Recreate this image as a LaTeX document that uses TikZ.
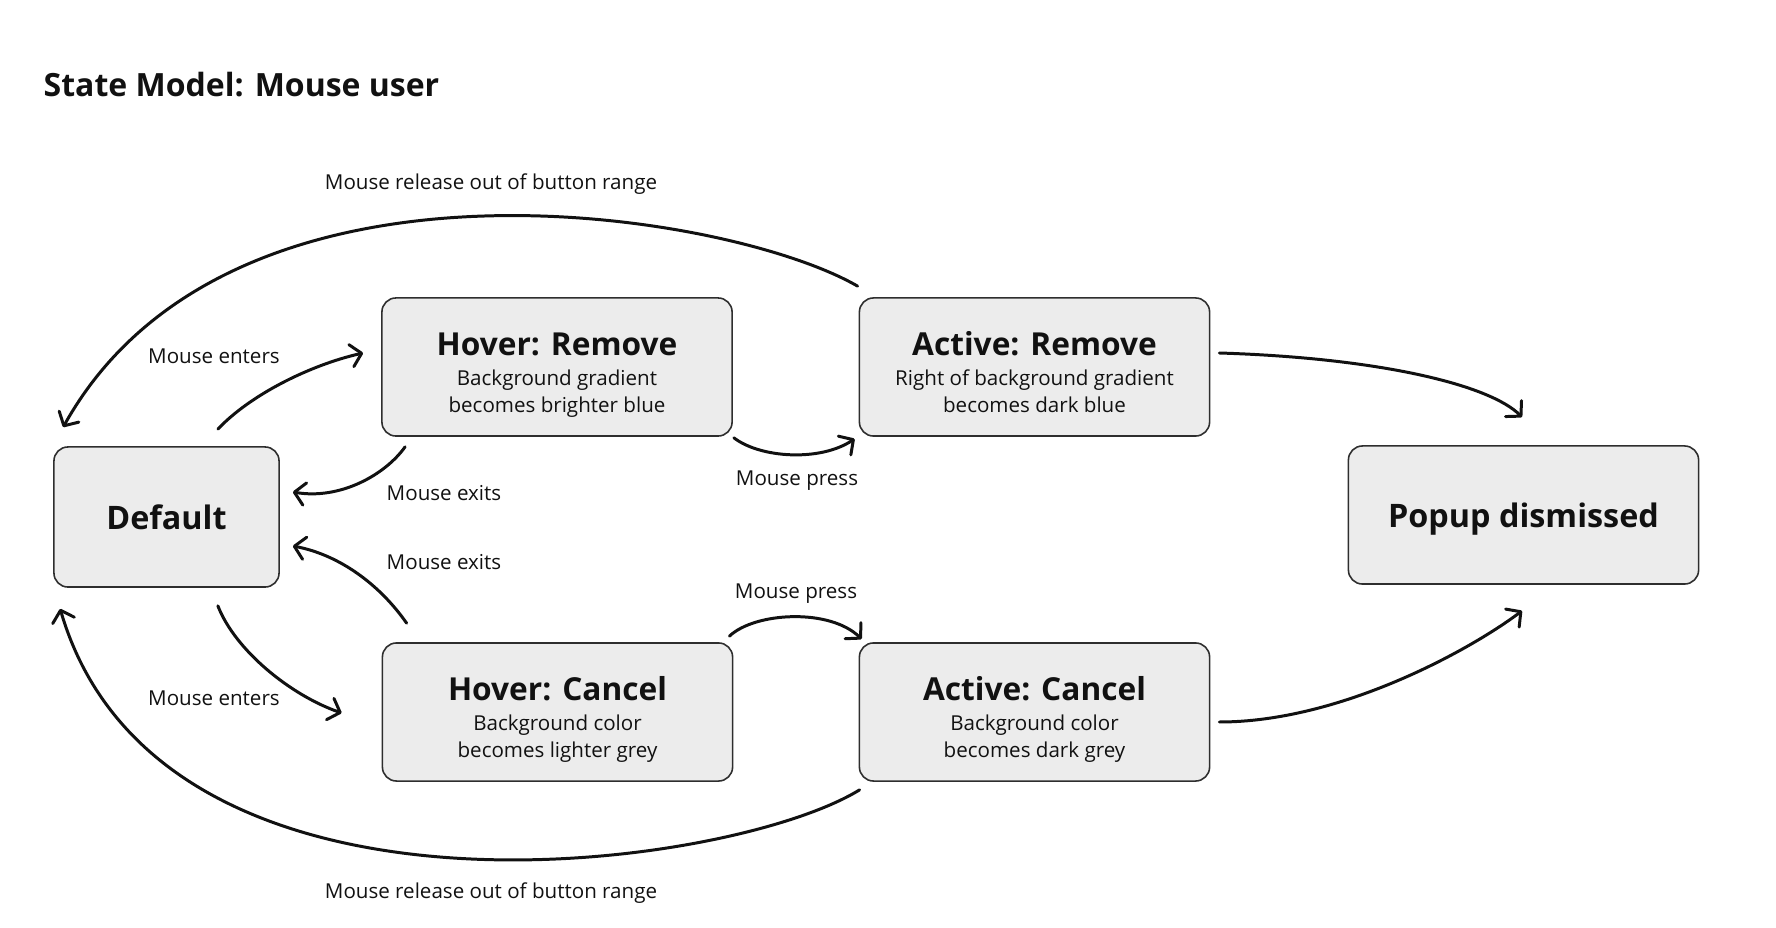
\documentclass[tikz,border=0pt]{standalone}
\usepackage{fontspec}
\setmainfont{Open Sans}
\usetikzlibrary{arrows.meta,calc}
\definecolor{boxfill}{HTML}{ECECEC}
\definecolor{boxline}{HTML}{2E2E2E}
\definecolor{ink}{HTML}{111111}
\newcommand{\titlefnt}{\fontsize{9.0}{9}\selectfont\bfseries}
\newcommand{\bigfnt}{\fontsize{9.2}{10}\selectfont\bfseries}
\newcommand{\subfnt}{\fontsize{5.85}{7.7}\selectfont}
\tikzset{
  statebox/.style={draw=boxline, fill=boxfill, line width=0.45pt, rounded corners=4pt,
    minimum width=3.5cm, minimum height=1.38cm, align=center, inner sep=0pt, text=ink, font=\subfnt},
  twoline/.style={statebox, text height=27.3pt, text depth=1.5pt},
  smallbox/.style={statebox, minimum width=2.25cm, minimum height=1.4cm},
  conn/.style={line width=0.85pt, ink, line cap=round,
    -{Straight Barb[length=3pt,width=6.4pt,round]}},
  lbl/.style={font=\subfnt, text=ink, inner sep=0pt}
}
\begin{document}
\begin{tikzpicture}[x=0.01cm,y=-0.01cm]
\useasboundingbox (0,0) rectangle (1776,928);
\node[anchor=base west, font=\fontsize{9.1}{11}\selectfont\bfseries, text=ink, inner sep=0pt] (title) at (43,97) {State Model: Mouse user};

\node[smallbox, font=\bigfnt] (def) at (166.5,517) {Default};
\node[twoline] (hr) at (557,367) {{\titlefnt Hover: Remove}\\[0.8pt]Background gradient\\becomes brighter blue};
\node[twoline] (ar) at (1034.5,367) {{\titlefnt Active: Remove}\\[0.8pt]Right of background gradient\\becomes dark blue};
\node[twoline] (hc) at (557.5,712) {{\titlefnt Hover: Cancel}\\[0.8pt]Background color\\becomes lighter grey};
\node[twoline] (ac) at (1034.5,712) {{\titlefnt Active: Cancel}\\[0.8pt]Background color\\becomes dark grey};
\node[statebox, font=\bigfnt, text depth=0pt] (pd) at (1523.5,515) {Popup dismissed};

% connectors
\draw[conn] ([shift={(-1,-11)}]ar.north west) .. controls (730,212) and (230,128) .. ([shift={(10,-19)}]def.north west);
\draw[conn] ([shift={(-62,-17)}]def.north east) .. controls (250,395) and (310,365) .. ([shift={(-18,-14)}]hr.west);
\draw[conn] ([shift={(24,10)}]hr.south west) .. controls (385,475) and (340,500) .. ([shift={(13,-25)}]def.east);
\draw[conn] ([shift={(25,-19)}]hc.north west) .. controls (380,585) and (340,555) .. ([shift={(13,29)}]def.east);
\draw[conn] ([shift={(-62,18)}]def.south east) .. controls (235,650) and (290,695) .. ([shift={(-40,1)}]hc.west);
\draw[conn] ([shift={(1,8)}]ac.south west) .. controls (730,870) and (160,950) .. ([shift={(7,21)}]def.south west);
\draw[conn] ([shift={(1,1)}]hr.south east) .. controls (760,458) and (820,462) .. ([shift={(-4,2)}]ar.south west);
\draw[conn] ([shift={(-4,-6)}]hc.north east) .. controls (755,612) and (830,608) .. ([shift={(3,-3)}]ac.north west);
\draw[conn] ([shift={(9,-14)}]ar.east) .. controls (1380,358) and (1490,385) .. ([shift={(-1.5,-28)}]pd.north);
\draw[conn] ([shift={(9,10)}]ac.east) .. controls (1340,722) and (1470,650) .. ([shift={(-1.5,26)}]pd.south);

% labels
\node[lbl] (l1) at (491,184) {Mouse release out of button range};
\node[lbl] (l2) at (214,356) {Mouse enters};
\node[lbl] (l3) at (444,493) {Mouse exits};
\node[lbl] (l4) at (797,481) {Mouse press};
\node[lbl] (l5) at (444,562) {Mouse exits};
\node[lbl] (l6) at (796,594) {Mouse press};
\node[lbl] (l7) at (214,698) {Mouse enters};
\node[lbl] (l8) at (491,893) {Mouse release out of button range};
\end{tikzpicture}
\end{document}
